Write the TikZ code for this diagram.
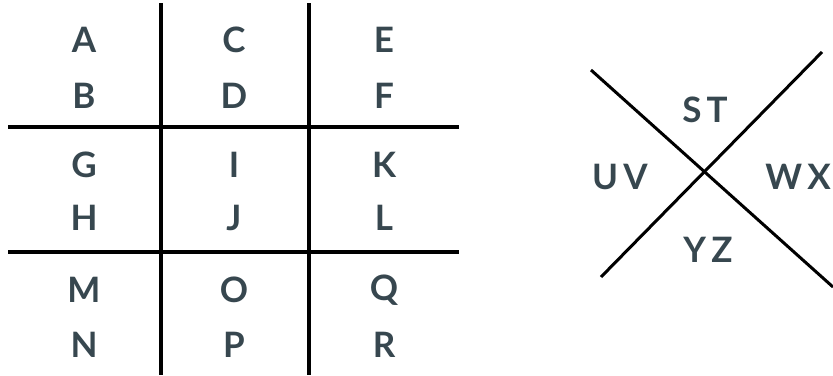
\documentclass[tikz,border=0pt]{standalone}
\usepackage{fontspec}
\setmainfont{Lato}
\newfontfamily\wideLato{Lato}[LetterSpace=15]
\usepackage{tikz}
\usetikzlibrary{calc,positioning}
\definecolor{pigslate}{RGB}{55,71,79}
\tikzset{
  gridline/.style ={line width=4pt, black},
  crossline/.style={line width=3pt, black},
  pletter/.style  ={text=pigslate, inner sep=0pt, font=\fontsize{35}{42}\selectfont\bfseries},
  ppair/.style    ={pletter, font=\fontsize{35}{42}\selectfont\wideLato\bfseries},
}
\begin{document}
\begin{tikzpicture}[x=1pt,y=-1pt]
  \useasboundingbox (0,0) rectangle (833,375);
  % grid
  \coordinate (v1t) at (161,3);   \coordinate (v1b) at (161,375);
  \coordinate (v2t) at (309,3);   \coordinate (v2b) at (309,375);
  \coordinate (h1l) at (8,127);   \coordinate (h1r) at (459,127);
  \coordinate (h2l) at (8,252);   \coordinate (h2r) at (459,252);
  \draw[gridline] (v1t) -- (v1b);
  \draw[gridline] (v2t) -- (v2b);
  \draw[gridline] (h1l) -- (h1r);
  \draw[gridline] (h2l) -- (h2r);
  \foreach \lt/\x/\y in {A/84/40, B/84/96, C/234/40, D/234/96, E/384/40, F/384/96,
                         G/84/165, H/84/218, I/234/165, J/234/218, K/384/165, L/384/218,
                         M/84/290, N/84/345, O/234/290, P/234/345, Q/384/290, R/384/345}
    \node[pletter] (l\lt) at (\x,\y) {\lt};
  % cross
  \coordinate (c1a) at (591,70);  \coordinate (c1b) at (833,287);
  \coordinate (c2a) at (822,52);  \coordinate (c2b) at (601,277);
  \draw[crossline] (c1a) -- (c1b);
  \draw[crossline] (c2a) -- (c2b);
  \node[ppair] (st) at (705,110) {ST};
  \node[ppair] (uv) at (620,177) {UV};
  \node[ppair] (wx) at (798,177) {WX};
  \node[ppair] (yz) at (708,250) {YZ};
\end{tikzpicture}
\end{document}
